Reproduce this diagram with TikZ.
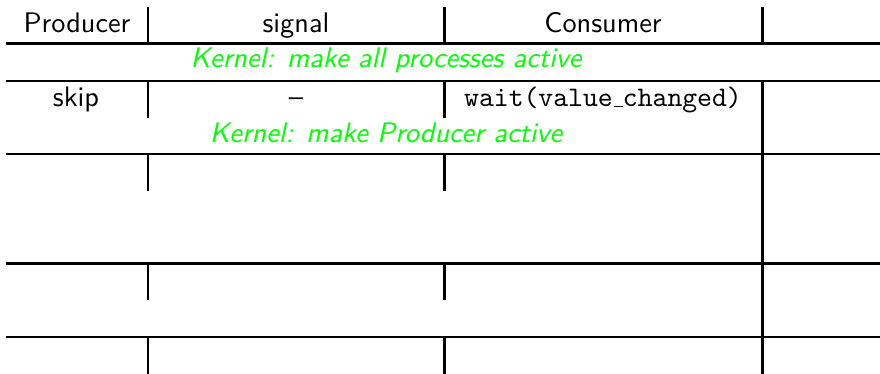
\documentclass[tikz,border=0pt]{standalone}
\usepackage{fontspec}
\newfontfamily\lmsansten{lmsans10-regular.otf}[ItalicFont=lmsans10-oblique.otf,Ligatures=TeX]
\newfontfamily\lmmonoten{lmmono10-regular.otf}
\newcommand\lowrule{\leavevmode\kern.06em\vbox{\hrule width.3em height 1.2pt}}
\usepackage{tikz}
\tikzset{
  rule/.style={line width=2.2pt},
  heavyrule/.style={line width=2.8pt},
  vrule/.style={line width=2.4pt},
  vheavy/.style={line width=3pt},
  cell/.style={inner sep=0pt, anchor=base, font=\lmsansten\fontsize{28.3}{32}\selectfont},
  kern/.style={inner sep=0pt, anchor=base, text=green, font=\lmsansten\fontsize{28.3}{32}\selectfont\itshape},
}
\begin{document}
\begin{tikzpicture}[x=1pt,y=-1pt]
\useasboundingbox (0,0) rectangle (880,374);
% horizontal rules
\draw[rule] (6,43.5) -- (880,43.5);
\draw[heavyrule] (6,81) -- (880,81);
\draw[rule] (6,154) -- (880,154);
\draw[rule] (6,263.5) -- (880,263.5);
\draw[heavyrule] (6,337) -- (880,337);
% vertical rules
\foreach \xx in {148,444.5}{
  \draw[vrule] (\xx,7) -- (\xx,43.5);
  \draw[vrule] (\xx,81) -- (\xx,118);
  \draw[vrule] (\xx,154) -- (\xx,191);
  \draw[vrule] (\xx,263.5) -- (\xx,300);
  \draw[vrule] (\xx,337) -- (\xx,374);
}
\draw[vheavy] (762,7) -- (762,43.5);
\draw[vheavy] (762,81) -- (762,374);
% texts
\node[cell] (prod) at (77,33) {Producer};
\node[cell] (sig) at (296,33) {signal};
\node[cell] (cons) at (603,33) {Consumer};
\node[kern] (k1) at (386,68) {Kernel: make all processes active};
\node[cell] (skip) at (76,107) {skip};
\node[cell] (dash) at (296,107) {–};
\node[cell, font=\lmmonoten\fontsize{28.3}{32}\selectfont] (wait) at (603,107) {wait(value\lowrule changed)};
\node[kern] (k2) at (386,143) {Kernel: make Producer active};
\end{tikzpicture}
\end{document}
